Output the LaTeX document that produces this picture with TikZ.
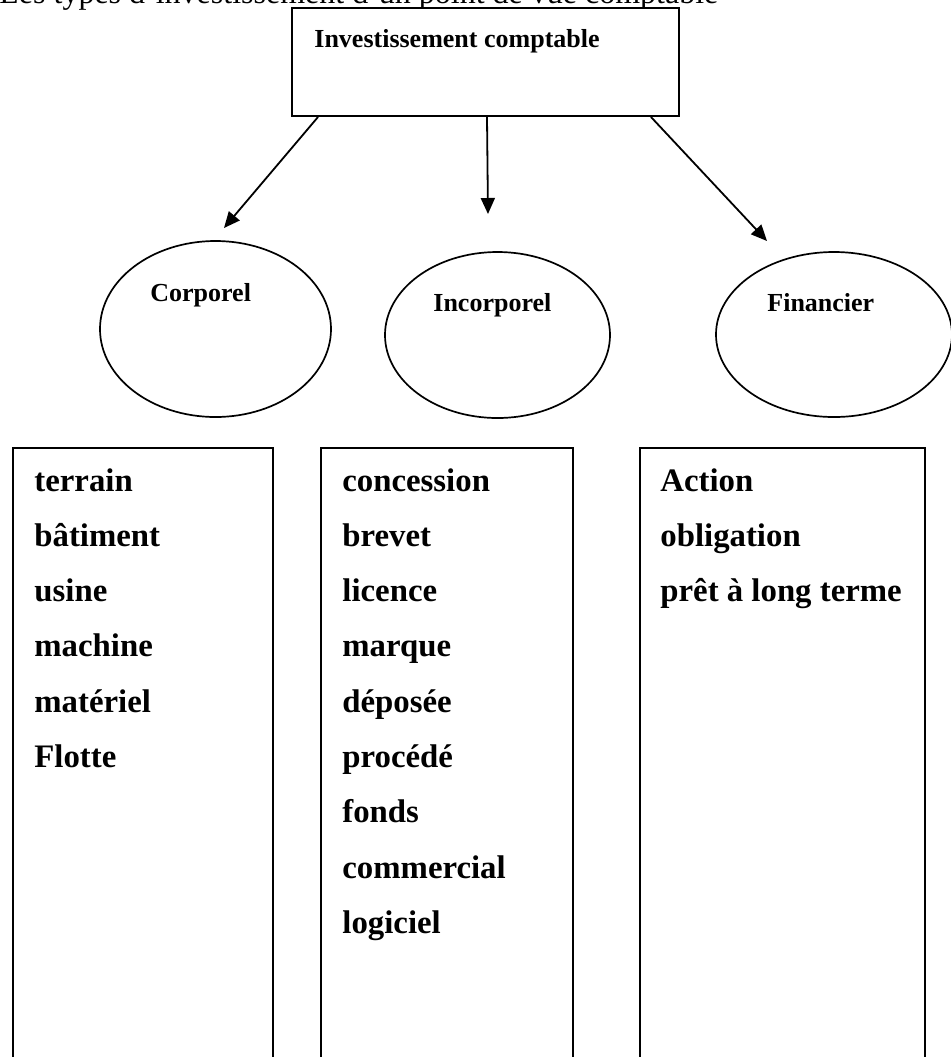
\documentclass[tikz,border=0pt]{standalone}
\usepackage{fontspec}
\setmainfont{Liberation Serif}
\usetikzlibrary{arrows.meta,shapes.geometric,calc}
\begin{document}
\begin{tikzpicture}[x=0.5pt,y=-0.5pt,
    headbox/.style={draw,line width=1pt,fill=white,rectangle,minimum width=193.5pt,minimum height=54pt,inner sep=0pt},
    kind/.style={draw,line width=0.85pt,ellipse,inner sep=0pt},
    kindlbl/.style={anchor=base west,inner sep=0pt,font=\bfseries\fontsize{13}{15}\selectfont},
    item/.style={anchor=base west,inner sep=0pt,font=\bfseries\fontsize{16.4}{19}\selectfont},
    arrow/.style={line width=0.9pt,-{Triangle[length=8pt,width=7pt]}},
    column/.style={line width=1pt}]
  \useasboundingbox (0,0) rectangle (951,1057);
  \node[anchor=base west,inner sep=0pt,font=\fontsize{16}{19}\selectfont] (title) at (-1,3)
    {Les types d'investissement d'un point de vue comptable};
  \node[headbox] (invest) at (485.5,62) {};
  \node[kindlbl] (investlbl) at (314,47) {Investissement comptable};
  \node[kind,minimum width=115.5pt,minimum height=88pt] (corp) at (215.5,329) {};
  \node[kind,minimum width=112.5pt,minimum height=83pt] (incorp) at (497.5,335) {};
  \node[kind,minimum width=118pt,minimum height=82.5pt] (fin) at (834,334.5) {};
  \node[kindlbl] (corplbl) at (150,301) {Corporel};
  \node[kindlbl] (incorplbl) at (433,311) {Incorporel};
  \node[kindlbl] (finlbl) at (767,311) {Financier};
  \coordinate (tipcorp) at (224,228);
  \coordinate (tipincorp) at (488,214);
  \coordinate (tipfin) at (767,241);
  \draw[arrow] ($(invest.south west)+(27,0)$) -- (tipcorp);
  \draw[arrow] ($(invest.south)+(1.5,0)$) -- (tipincorp);
  \draw[arrow] ($(invest.south east)+(-29,0)$) -- (tipfin);
  % colonnes ouvertes en bas
  \draw[column] (13,1060) -- (13,448) -- (273,448) -- (273,1060);
  \draw[column] (321,1060) -- (321,448) -- (573,448) -- (573,1060);
  \draw[column] (640,1060) -- (640,448) -- (925,448) -- (925,1060);
  \foreach \word [count=\i from 0] in {terrain,bâtiment,usine,machine,matériel,Flotte}
    \node[item] (corpitem\i) at (34,{491+55.3*\i}) {\word};
  \foreach \word [count=\i from 0] in {concession,brevet,licence,marque,déposée,procédé,fonds,commercial,logiciel}
    \node[item] (incorpitem\i) at (342,{491+55.3*\i}) {\word};
  \foreach \word [count=\i from 0] in {Action,obligation,prêt à long terme}
    \node[item] (finitem\i) at (660,{491+55.3*\i}) {\word};
\end{tikzpicture}
\end{document}
